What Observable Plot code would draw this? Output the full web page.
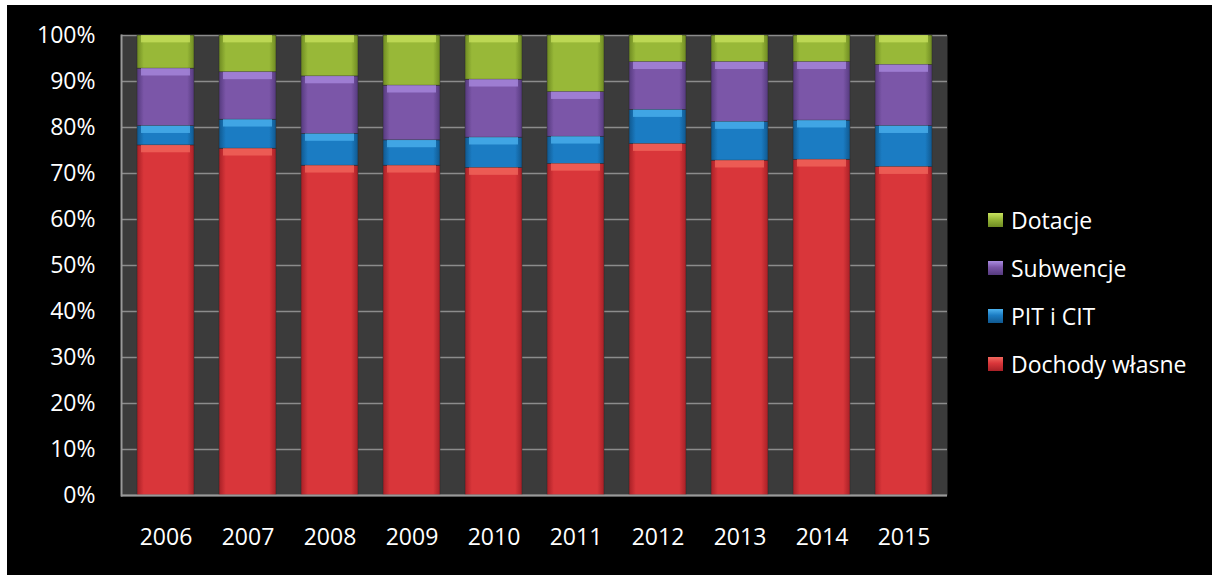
<!DOCTYPE html>
<html>
<head>
<meta charset="utf-8">
<script src="https://cdn.jsdelivr.net/npm/d3@7"></script>
<script src="https://cdn.jsdelivr.net/npm/@observablehq/plot@0.6"></script>
<style>
  html, body { margin: 0; padding: 0; background: #ffffff; }
  #wrap { position: relative; padding-left: 7px; padding-top: 5px; width: 1205px; height: 570px; }
  #chart svg { display: block; }
  #legend { position: absolute; left: 988px; top: 196px; font-family: "Open Sans", "Noto Sans", sans-serif; font-size: 23px; color: #ffffff; }
  .item { display: flex; align-items: center; height: 48px; }
  .sw { width: 15px; height: 14px; margin-right: 8px; }
</style>
</head>
<body>
<div id="wrap">
  <div id="chart"></div>
  <div id="legend"></div>
</div>
<script>
const years = ["2006","2007","2008","2009","2010","2011","2012","2013","2014","2015"];
const seriesNames = ["Dochody własne", "PIT i CIT", "Subwencje", "Dotacje"];
const dochodyWlasne = [76.1, 75.4, 71.7, 71.7, 71.2, 72.1, 76.4, 72.8, 73.0, 71.4];
const pitCit       = [4.2, 6.3, 6.9, 5.5, 6.6, 5.9, 7.4, 8.4, 8.5, 8.9];
const subwencje    = [12.5, 10.3, 12.5, 11.9, 12.6, 9.7, 10.4, 13.0, 12.7, 13.3];
const dotacje      = [7.2, 8.0, 8.9, 10.9, 9.6, 12.3, 5.8, 5.8, 5.8, 6.4];
const yTicks = [0, 0.1, 0.2, 0.3, 0.4, 0.5, 0.6, 0.7, 0.8, 0.9, 1.0];

const baseColors = ["#d9363a", "#1b7cc3", "#7b56a8", "#98b838"];
const lightColors = ["#f2685e", "#4db3ef", "#a98be0", "#c8e25e"];
const darkColors = ["#a82026", "#10588f", "#553a7e", "#6e8a22"];

const seriesValues = [dochodyWlasne, pitCit, subwencje, dotacje];
const rows = [];
years.forEach((yr, i) => {
  let cum = 0;
  seriesNames.forEach((s, k) => {
    const v = seriesValues[k][i] / 100;
    rows.push({year: yr, series: s, value: v, y1: cum, y2: cum + v, k});
    cum += v;
  });
});

const gradIds = ["gRed", "gBlue", "gPurple", "gGreen"];
const fills = gradIds.map(id => `url(#${id})`);

const font = '"Open Sans", "Noto Sans", sans-serif';

const chart = Plot.plot({
  width: 1205,
  height: 570,
  marginLeft: 114,
  marginRight: 265,
  marginTop: 30,
  marginBottom: 80,
  style: { background: "#000000", color: "#ffffff", fontFamily: font, fontSize: "23px" },
  x: { domain: years, paddingInner: 0.31, paddingOuter: 0.155, label: null },
  y: { domain: [0, 1], label: null },
  color: { domain: seriesNames, range: fills },
  marks: [
    Plot.frame({ fill: "#3b3b3b", stroke: null }),
    Plot.gridY(yTicks, { stroke: "#8c8c8c", strokeOpacity: 1, strokeWidth: 1.5 }),
    Plot.barY(rows, { x: "year", y1: "y1", y2: "y2", fill: "series", stroke: "#2a2a2a", strokeWidth: 0.5 }),
    Plot.barY(rows, { x: "year", y1: d => d.y2 - 0.016, y2: "y2", fill: d => lightColors[d.k], fillOpacity: 0.75, insetLeft: 4, insetRight: 4 }),
    Plot.frame({ anchor: "left", stroke: "#9a9a9a", strokeWidth: 2 }),
    Plot.ruleY([0], { stroke: "#9a9a9a", strokeWidth: 2 }),
    Plot.axisY({ ticks: yTicks, tickFormat: d3.format(".0%"), tickSize: 0, tickPadding: 26, fill: "#ffffff", fontSize: 23, label: null }),
    Plot.axisX({ tickSize: 0, tickPadding: 33, fill: "#ffffff", fontSize: 23, label: null })
  ]
});

// gradient definitions for a cylinder-like bevel
const ns = "http://www.w3.org/2000/svg";
const defs = document.createElementNS(ns, "defs");
gradIds.forEach((id, k) => {
  const g = document.createElementNS(ns, "linearGradient");
  g.setAttribute("id", id);
  g.setAttribute("x1", "0"); g.setAttribute("x2", "1"); g.setAttribute("y1", "0"); g.setAttribute("y2", "0");
  [[0, darkColors[k]], [0.12, baseColors[k]], [0.5, baseColors[k]], [0.88, baseColors[k]], [1, darkColors[k]]].forEach(([o, c]) => {
    const s = document.createElementNS(ns, "stop");
    s.setAttribute("offset", o);
    s.setAttribute("stop-color", c);
    g.appendChild(s);
  });
  defs.appendChild(g);
});
chart.insertBefore(defs, chart.firstChild);
document.getElementById("chart").appendChild(chart);

// legend (top to bottom: reverse stacking order)
const legend = document.getElementById("legend");
[3, 2, 1, 0].forEach(k => {
  const item = document.createElement("div");
  item.className = "item";
  const sw = document.createElement("div");
  sw.className = "sw";
  sw.style.background = `linear-gradient(180deg, ${lightColors[k]} 0%, ${baseColors[k]} 45%, ${darkColors[k]} 100%)`;
  const label = document.createElement("span");
  label.textContent = seriesNames[k];
  item.appendChild(sw);
  item.appendChild(label);
  legend.appendChild(item);
});
</script>
</body>
</html>
